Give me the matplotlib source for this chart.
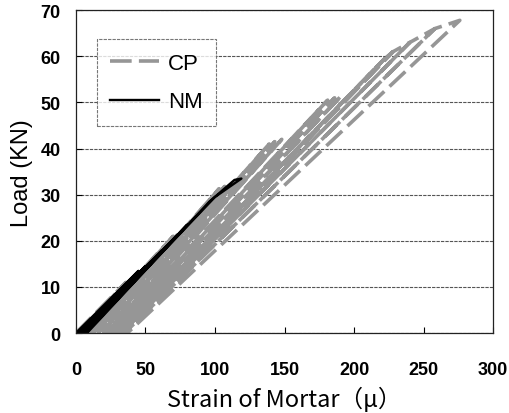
import matplotlib
matplotlib.use('Agg')
import matplotlib.pyplot as plt

# CP: load/unload cycles, turning points
cp_strain = [0, 36, 2, 39, 4, 42, 6, 70, 8, 73, 10, 77, 12,
             103, 14, 107, 16, 111, 18, 139, 20, 143, 22, 148, 24,
             181, 26, 186, 28, 191, 30, 222, 31, 222, 228, 32,
             228, 240, 33, 240, 258, 35, 258, 276, 37]
cp_load = [0, 11, 0, 11.3, 0, 11.5, 0, 21, 0, 21.3, 0, 21.5, 0,
           31.3, 0, 31.8, 0, 32, 0, 41, 0, 41.5, 0, 42, 0,
           50.5, 0, 51, 0, 51.5, 0, 59.5, 0, 59.5, 61, 0,
           61, 63, 0, 63, 66, 0, 66, 67.8, 0]

# NM
nm_strain = [0, 45, 2, 50, 3, 62, 5, 72, 6, 80, 7, 100, 119, 114, 96, 8]
nm_load = [0, 13.5, 0, 14.5, 0, 18, 0, 21, 0, 23.5, 0, 29.5, 33.5, 33.2, 28.5, 0]

x_ticks = [0, 50, 100, 150, 200, 250, 300]
y_ticks = [0, 10, 20, 30, 40, 50, 60, 70]

fig = plt.figure(figsize=(5.09, 4.14), dpi=100)
ax = fig.add_axes([0.149, 0.193, 0.820, 0.780])

ax.plot(cp_strain, cp_load, color='#969696', lw=2.6, dashes=(6, 2),
        label='CP', dash_capstyle='butt')
ax.plot(nm_strain, nm_load, color='black', lw=1.7, label='NM')

ax.set_xlim(0, 300)
ax.set_ylim(0, 70)
ax.set_xticks(x_ticks)
ax.set_yticks(y_ticks)
ax.tick_params(direction='in', length=4, width=0.8)
ax.tick_params(axis='x', pad=20)
ax.tick_params(axis='y', pad=11)
for lab in ax.get_xticklabels() + ax.get_yticklabels():
    lab.set_fontfamily('Liberation Sans')
    lab.set_fontweight('bold')
    lab.set_fontsize(13)

ax.yaxis.grid(True, color='#555555', lw=0.8, linestyle=(0, (3, 1)))
ax.set_axisbelow(True)
for s in ax.spines.values():
    s.set_linewidth(0.9)
    s.set_color('#222222')

ax.set_xlabel('Strain of Mortar（μ）', fontsize=17,
              family=['Noto Sans CJK JP', 'DejaVu Sans'], labelpad=6)
ax.set_ylabel('Load (KN)', fontsize=17, family='Liberation Sans', labelpad=5)

leg = ax.legend(loc='upper left', bbox_to_anchor=(0.05, 0.91), frameon=True,
                fancybox=False,
                prop={'family': 'Liberation Sans', 'size': 16},
                handlelength=2.2, labelspacing=0.8, borderpad=0.6,
                handletextpad=0.4, borderaxespad=0)
leg.get_frame().set_edgecolor('#555555')
leg.get_frame().set_linestyle((0, (3, 1)))
leg.get_frame().set_linewidth(0.8)

fig.savefig('out.png', dpi=100)
